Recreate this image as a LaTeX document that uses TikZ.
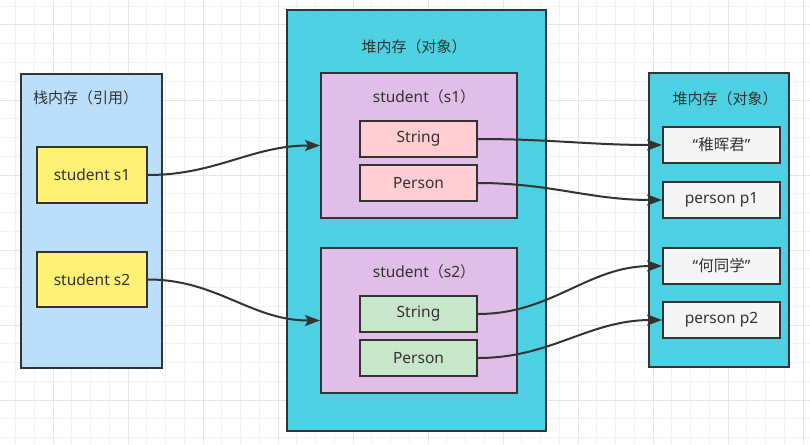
\documentclass[tikz,border=0pt]{standalone}
\usepackage{fontspec}
\setmainfont{Noto Sans}
\newfontfamily\cjkfont{Noto Sans CJK SC}
\newfontfamily\latfont{Noto Sans}
\usetikzlibrary{arrows.meta, positioning}
\definecolor{edge}{HTML}{333333}
\definecolor{stackfill}{HTML}{BBDEFB}
\definecolor{heapfill}{HTML}{4DD0E1}
\definecolor{objfill}{HTML}{E1BEE7}
\definecolor{reffill}{HTML}{FFF176}
\definecolor{pinkfill}{HTML}{FFCDD2}
\definecolor{greenfill}{HTML}{C8E6C9}
\definecolor{valfill}{HTML}{F5F5F5}
\definecolor{gridminor}{HTML}{F2F2F2}
\definecolor{gridmajor}{HTML}{E6E6E6}
\newcommand{\lat}[1]{{\latfont\fontsize{15.5}{18}\selectfont #1}}

\begin{document}
\begin{tikzpicture}[x=1pt, y=-1pt, >={Stealth[length=15pt,width=11pt,inset=3pt]}]
    \tikzstyle{area} = [draw=edge, line width=2pt, inner sep=0pt]
    \tikzstyle{box} = [area, text=edge, font=\fontsize{15.5}{18}\selectfont, text centered, align=center]
    \tikzstyle{title} = [text=edge, inner sep=0pt, font=\cjkfont\fontsize{15}{18}\selectfont]
    \tikzstyle{ref} = [->, draw=edge, line width=2pt]
    \useasboundingbox (0,0) rectangle (810,444);
    \fill[white] (0,0) rectangle (810,444);
    % grid
    \foreach \x in {15.5,34.25,...,810} \draw[gridminor, line width=1pt] (\x,0) -- (\x,444);
    \foreach \y in {6.25,25,...,444} \draw[gridminor, line width=1pt] (0,\y) -- (810,\y);
    \foreach \x in {53,128,...,810} \draw[gridmajor, line width=1pt] (\x,0) -- (\x,444);
    \foreach \y in {25,100,...,444} \draw[gridmajor, line width=1pt] (0,\y) -- (810,\y);
    % stack
    \node [area, fill=stackfill, minimum width=141pt, minimum height=294pt] at (91.5,221) (stack) {};
    \node [title, anchor=west] at (33,98) (stacktitle) {栈内存（引用）};
    \node [box, fill=reffill, minimum width=110pt, minimum height=56pt] at (92,175) (s1) {student s1};
    \node [box, fill=reffill, minimum width=110pt, minimum height=55pt] at (92,279.5) (s2) {student s2};
    % heap with the students
    \node [area, fill=heapfill, minimum width=259pt, minimum height=421pt] at (416.5,220.5) (heap) {};
    \node [title] at (414,47) (heaptitle) {堆内存（对象）};
    \node [area, fill=objfill, minimum width=196pt, minimum height=145pt] at (419,145.5) (obj1) {};
    \node [title] at (424,97) (obj1title) {\lat{student}（\lat{s1}）};
    \node [box, fill=pinkfill, minimum width=117pt, minimum height=36pt] at (418.5,139) (str1) {String};
    \node [box, fill=pinkfill, minimum width=117pt, minimum height=36pt] at (418.5,183) (per1) {Person};
    \node [area, fill=objfill, minimum width=196pt, minimum height=145pt] at (419,320.5) (obj2) {};
    \node [title] at (424,272) (obj2title) {\lat{student}（\lat{s2}）};
    \node [box, fill=greenfill, minimum width=117pt, minimum height=36pt] at (418.5,314) (str2) {String};
    \node [box, fill=greenfill, minimum width=117pt, minimum height=36pt] at (418.5,358) (per2) {Person};
    % heap with the values
    \node [area, fill=heapfill, minimum width=140pt, minimum height=294pt] at (719,220) (values) {};
    \node [title] at (725,99) (valuestitle) {堆内存（对象）};
    \node [box, fill=valfill, minimum width=117pt, minimum height=36pt] at (721.5,145) (name1) {“{\cjkfont 稚晖君}”};
    \node [box, fill=valfill, minimum width=117pt, minimum height=36pt] at (721.5,200) (p1) {person p1};
    \node [box, fill=valfill, minimum width=117pt, minimum height=36pt] at (721.5,266) (name2) {“{\cjkfont 何同学}”};
    \node [box, fill=valfill, minimum width=117pt, minimum height=36pt] at (721.5,320) (p2) {person p2};
    % references
    \draw[ref] (s1.east) to[out=0, in=180] (obj1.west);
    \draw[ref] (s2.east) to[out=0, in=180] (obj2.west);
    \draw[ref] (str1.east) to[out=0, in=180] (name1.west);
    \draw[ref] (per1.east) to[out=0, in=180] (p1.west);
    \draw[ref] (str2.east) to[out=0, in=180] (name2.west);
    \draw[ref] (per2.east) to[out=0, in=180] (p2.west);
\end{tikzpicture}
\end{document}
